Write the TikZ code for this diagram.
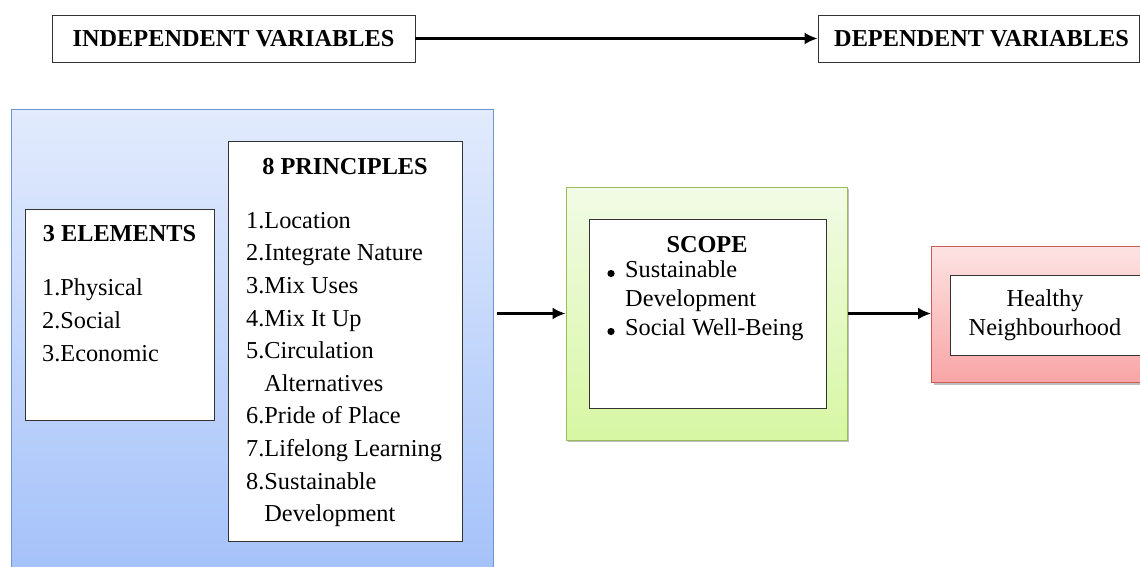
\documentclass[tikz,border=0pt]{standalone}
\usepackage{fontspec}
\setmainfont{Liberation Serif}
\usetikzlibrary{arrows.meta,shadows}
\definecolor{bluetop}{HTML}{E2EBFD}
\definecolor{bluebot}{HTML}{A2C0F9}
\definecolor{blueline}{HTML}{6F94CF}
\definecolor{greentop}{HTML}{F2FBE6}
\definecolor{greenbot}{HTML}{D7F7A3}
\definecolor{greenline}{HTML}{9BBB59}
\definecolor{redtop}{HTML}{FDE3E3}
\definecolor{redbot}{HTML}{F8A5A5}
\definecolor{redline}{HTML}{CD5A57}
\definecolor{boxline}{HTML}{333333}
\begin{document}
\begin{tikzpicture}[x=1pt,y=-1pt,
  txt/.style={inner sep=0pt,font=\fontsize{24.3}{29}\selectfont},
  ttl/.style={inner sep=0pt,font=\fontsize{24.3}{29}\selectfont\bfseries},
  wbox/.style={draw=boxline,line width=0.9pt,fill=white,inner sep=0pt},
  conn/.style={line width=2.2pt,-{Latex[length=13pt,width=12pt]}},
  shad/.style={drop shadow={shadow xshift=2pt,shadow yshift=-2pt,opacity=0.25,fill=black}}
]
\useasboundingbox (0,0) rectangle (1140,567);
\clip (0,0) rectangle (1140,567);
\fill[white] (0,0) rectangle (1140,567);

% header
\node[wbox,minimum width=363pt,minimum height=47pt] (iv) at (233.5,38.5) {};
\node[wbox,minimum width=321pt,minimum height=47pt] (dv) at (978.5,38.5) {};
\node[ttl,anchor=base] (ivt) at (233.5,46.7) {INDEPENDENT VARIABLES};
\node[ttl,anchor=base] (dvt) at (981.5,46.7) {DEPENDENT VARIABLES};
\draw[conn] (iv.east) -- (dv.west);

% blue container
\node[draw=blueline,line width=1pt,top color=bluetop,bottom color=bluebot,
      minimum width=482pt,minimum height=480pt,inner sep=0pt] (blue) at (252,350) {};

% 3 elements
\node[wbox,minimum width=189pt,minimum height=211pt] (elem) at (119.5,314.5) {};
\node[ttl,anchor=base] (elemt) at (119.5,241.7) {3 ELEMENTS};
\node[txt,anchor=base west] (e1) at (42,295) {1.Physical};
\node[txt,anchor=base west] (e2) at (42,328) {2.Social};
\node[txt,anchor=base west] (e3) at (42,361) {3.Economic};

% 8 principles
\node[wbox,minimum width=234pt,minimum height=400pt] (prin) at (345,341) {};
\node[ttl,anchor=base] (print) at (345,174) {8 PRINCIPLES};
\foreach \t [count=\i from 0] in {1.Location,2.Integrate Nature,3.Mix Uses,4.Mix It Up,5.Circulation,\hphantom{5.}Alternatives,6.Pride of Place,7.Lifelong Learning,8.Sustainable,\hphantom{8.}Development}
  \node[txt,anchor=base west] (p\i) at (246,228.3+32.6*\i) {\t};

% scope
\node[draw=greenline,line width=1pt,top color=greentop,bottom color=greenbot,shad,
      minimum width=281pt,minimum height=253pt,inner sep=0pt] (green) at (706.5,313.5) {};
\node[wbox,minimum width=237pt,minimum height=189pt] (scope) at (707.5,313.5) {};
\node[ttl,anchor=base] (scopet) at (707,252) {SCOPE};
\fill (611,273.5) circle (3.6pt);
\fill (611,331.5) circle (3.6pt);
\node[txt,anchor=base west] (s1) at (625,277) {Sustainable};
\node[txt,anchor=base west] (s2) at (625,306) {Development};
\node[txt,anchor=base west] (s3) at (625,335) {Social Well-Being};

% healthy neighbourhood
\node[draw=redline,line width=1pt,top color=redtop,bottom color=redbot,shad,
      minimum width=220pt,minimum height=136pt,inner sep=0pt,anchor=north west] (red) at (931,246) {};
\node[wbox,minimum width=190pt,minimum height=80pt,anchor=north west] (hn) at (950,275) {};
\node[txt,anchor=base] (h1) at (1045,306.5) {Healthy};
\node[txt,anchor=base] (h2) at (1045,335.5) {Neighbourhood};

% connectors
\draw[conn] ([xshift=3pt]blue.east |- green.west) -- (green.west);
\draw[conn] (green.east) -- (red.west |- green.east);
\end{tikzpicture}
\end{document}
